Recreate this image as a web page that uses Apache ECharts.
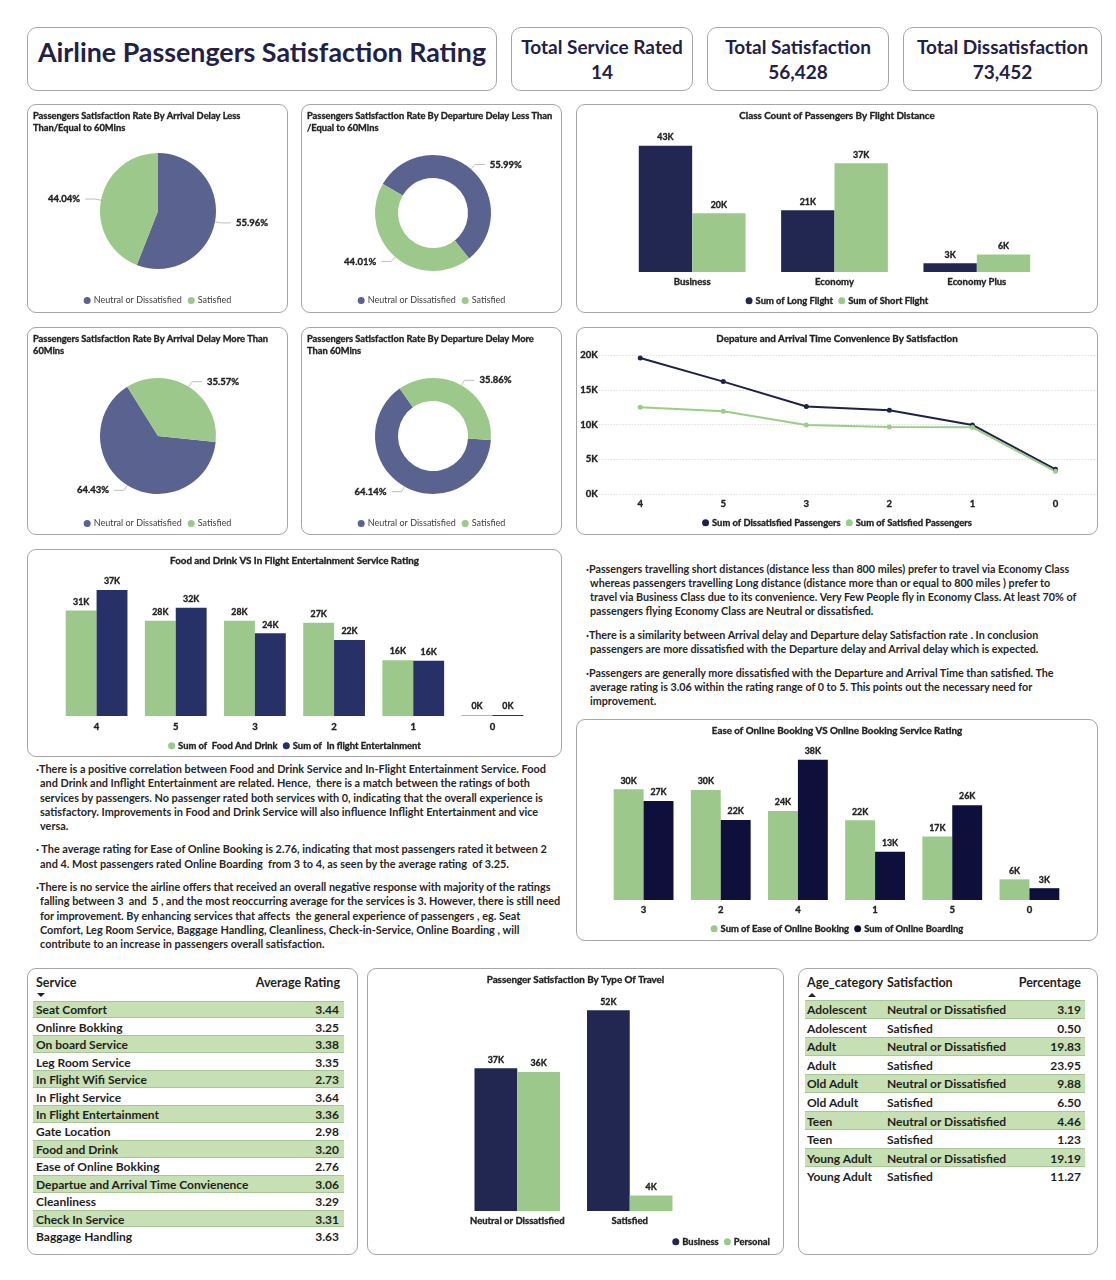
<!DOCTYPE html>
<html><head><meta charset="utf-8">
<script src="https://cdn.jsdelivr.net/npm/echarts@6/dist/echarts.min.js"></script>
<style>
body{margin:0;background:#fff;font-family:Lato,'Open Sans',sans-serif;color:#222;}
#root{position:relative;width:1116px;height:1280px;overflow:hidden;background:#fff;}
.box{position:absolute;border:1px solid #a6a6a6;border-radius:9px;box-sizing:border-box;background:#fff;}
.chart{position:absolute;left:0;top:0;width:100%;height:100%;}
.kpi{display:flex;flex-direction:column;align-items:center;justify-content:center;font-weight:700;color:#1f2147;}
.txt{position:absolute;font-weight:700;color:#262626;}
.txt .ln{white-space:pre;}
.row{position:absolute;box-sizing:border-box;font-weight:700;color:#1e1e1e;font-size:12px;}
.row.g{background:#c6e0b4;border-top:1px solid #a9c69a;border-bottom:1px solid #a9c69a;}
.row span{position:absolute;top:50%;transform:translateY(-50%);white-space:nowrap;}
.hdr{position:absolute;font-weight:700;font-size:12.5px;color:#1e1e1e;white-space:nowrap;}
</style></head>
<body><div id="root"></div>
<script>
// ---------- data ----------
const pieLabels = ['Neutral or Dissatisfied', 'Satisfied'];
const arrivalLe60 = [55.96, 44.04];
const departureLe60 = [55.99, 44.01];
const arrivalGt60 = [64.43, 35.57];
const departureGt60 = [64.14, 35.86];

const classCategories = ['Business', 'Economy', 'Economy Plus'];
const longFlight = [43000, 21000, 3000];
const shortFlight = [20000, 37000, 6000];

const convenienceRatings = ['4', '5', '3', '2', '1', '0'];
const dissatisfiedPassengers = [19570, 16170, 12600, 12060, 9930, 3550];
const satisfiedPassengers = [12480, 11900, 9930, 9650, 9600, 3260];
const convenienceTicks = [0, 5000, 10000, 15000, 20000];

const foodRatings = ['4', '5', '3', '2', '1', '0'];
const foodAndDrink = [31000, 28000, 28000, 27400, 16400, 0];
const inflightEntertainment = [37000, 31800, 24300, 22300, 16200, 0];

const bookingRatings = ['3', '2', '4', '1', '5', '0'];
const easeOfOnlineBooking = [30000, 29800, 24100, 21600, 17200, 5600];
const onlineBoarding = [26800, 21700, 38000, 13100, 25700, 3200];

const travelCategories = ['Neutral or Dissatisfied', 'Satisfied'];
const businessTravel = [37000, 52000];
const personalTravel = [36000, 4000];

const services = ['Seat Comfort', 'Onlinre Bokking', 'On board Service', 'Leg Room Service', 'In Flight Wifi Service', 'In Flight Service', 'In Flight Entertainment', 'Gate Location', 'Food and Drink', 'Ease of Online Bokking', 'Departue and Arrival Time Convienence', 'Cleanliness', 'Check In Service', 'Baggage Handling'];
const serviceRatings = ['3.44', '3.25', '3.38', '3.35', '2.73', '3.64', '3.36', '2.98', '3.20', '2.76', '3.06', '3.29', '3.31', '3.63'];

const ageCategories = ['Adolescent', 'Adolescent', 'Adult', 'Adult', 'Old Adult', 'Old Adult', 'Teen', 'Teen', 'Young Adult', 'Young Adult'];
const ageSatisfaction = ['Neutral or Dissatisfied', 'Satisfied', 'Neutral or Dissatisfied', 'Satisfied', 'Neutral or Dissatisfied', 'Satisfied', 'Neutral or Dissatisfied', 'Satisfied', 'Neutral or Dissatisfied', 'Satisfied'];
const agePercentage = ['3.19', '0.50', '19.83', '23.95', '9.88', '6.50', '4.46', '1.23', '19.19', '11.27'];

// ---------- layout helpers ----------
const F = 'Lato';
const INK = '#222222';
const EMB = { textBorderColor: INK, textBorderWidth: 0.35 };
const root = document.getElementById('root');
function box(l, t, w, h, r) {
  const d = document.createElement('div');
  d.className = 'box';
  d.style.cssText = `left:${l}px;top:${t}px;width:${w}px;height:${h}px;` + (r ? `border-radius:${r}px;` : '');
  root.appendChild(d);
  return d;
}
function chartIn(l, t, w, h) {
  const d = box(l, t, w, h);
  const c = document.createElement('div');
  c.className = 'chart';
  d.appendChild(c);
  return echarts.init(c, null, { renderer: 'canvas' });
}
const kfmt = p => Math.round(p.value / 1000) + 'K';
const titleStyle = Object.assign({ fontSize: 9.8, fontWeight: 700, color: INK, fontFamily: F, lineHeight: 12 }, EMB);
const pieTitleStyle = Object.assign({ fontSize: 9.3, fontWeight: 700, color: INK, fontFamily: F, lineHeight: 12 }, EMB);
const barLabel = Object.assign({ show: true, position: 'top', formatter: kfmt, fontSize: 8.8, fontWeight: 700, color: INK, fontFamily: F, distance: 4 }, EMB);
const legendBold = { icon: 'circle', itemWidth: 7, itemHeight: 7, itemGap: 5, textStyle: Object.assign({ fontSize: 9.4, fontWeight: 700, color: INK, fontFamily: F, padding: [0, 0, 0, -2] }, EMB) };
const catAxis = (data, margin) => ({ type: 'category', data, axisLine: { show: false }, axisTick: { show: false }, axisLabel: Object.assign({ interval: 0, fontSize: 9.5, fontWeight: 700, color: INK, fontFamily: F, margin }, EMB) });

// ---------- header ----------
const tb = box(27, 27, 470, 64, 10);
tb.classList.add('kpi');
tb.style.paddingBottom = '14px';
tb.innerHTML = '<div id="mainTitle" style="font-size:26.8px;white-space:nowrap">Airline Passengers Satisfaction Rating</div>';
function kpi(l, w, label, val) {
  const b = box(l, 27, w, 64, 10);
  b.classList.add('kpi');
  b.innerHTML = `<div class="kl" style="font-size:19px;line-height:25px;white-space:nowrap">${label}</div><div style="font-size:19px;line-height:25px">${val}</div>`;
}
kpi(511, 182, 'Total Service Rated', '14');
kpi(707, 182, 'Total Satisfaction', '56,428');
kpi(903, 199, 'Total Dissatisfaction', '73,452');

// ---------- pies ----------
function pieOpt(title, values, donut, startAngle, center) {
  return {
    animation: false,
    color: ['#5a6290', '#9cc98b'],
    title: { text: title, left: 5, top: 5, padding: 0, textStyle: pieTitleStyle },
    legend: { left: 'center', top: 186, icon: 'circle', itemWidth: 7, itemHeight: 7, itemGap: 6, textStyle: { fontSize: 9, color: '#404040', fontFamily: F, padding: [0, 0, 0, -2] } },
    series: [{
      type: 'pie', radius: donut ? [35, 58] : [0, 58], center, startAngle, clockwise: true,
      data: pieLabels.map((n, i) => ({ name: n, value: values[i] })),
      label: Object.assign({ formatter: p => p.value.toFixed(2) + '%', fontSize: 9.5, fontWeight: 700, color: INK, fontFamily: F }, EMB),
      labelLine: { length: 6, length2: 10, lineStyle: { color: '#bfbfbf', width: 1 } },
      emphasis: { disabled: true }
    }]
  };
}
chartIn(27, 104, 261, 209).setOption(pieOpt('Passengers Satisfaction Rate By Arrival Delay Less\nThan/Equal to 60Mins', arrivalLe60, false, 90, [130, 106]));
chartIn(301, 104, 261, 209).setOption(pieOpt('Passengers Satisfaction Rate By Departure Delay Less Than\n/Equal to 60Mins', departureLe60, true, 150, [131, 108]));
chartIn(27, 327, 261, 208).setOption(pieOpt('Passengers Satisfaction Rate By Arrival Delay More Than\n60Mins', arrivalGt60, false, -6, [130, 108]));
chartIn(301, 327, 261, 208).setOption(pieOpt('Passengers Satisfaction Rate By Departure Delay More\nThan 60Mins', departureGt60, true, -4, [131, 108]));

// ---------- class count ----------
chartIn(576, 104, 522, 209).setOption({
  animation: false,
  title: { text: 'Class Count of Passengers By Flight Distance', left: 'center', top: 5, padding: 0, textStyle: titleStyle },
  legend: Object.assign({ left: 'center', top: 186 }, legendBold),
  grid: { left: 44, right: 49, top: 26, bottom: 40 },
  xAxis: catAxis(classCategories, 5),
  yAxis: { type: 'value', min: 0, max: 48000, show: false },
  series: [
    { type: 'bar', name: 'Sum of Long Flight', data: longFlight, itemStyle: { color: '#212750' }, barGap: '0%', barCategoryGap: '25%', label: barLabel },
    { type: 'bar', name: 'Sum of Short Flight', data: shortFlight, itemStyle: { color: '#9cc98b' }, label: barLabel }
  ]
});

// ---------- time convenience line ----------
chartIn(576, 327, 522, 208).setOption({
  animation: false,
  title: { text: 'Depature and Arrival Time Convenience By Satisfaction', left: 'center', top: 5, padding: 0, textStyle: titleStyle },
  legend: Object.assign({ left: 'center', top: 185 }, legendBold),
  grid: { left: 20, right: -3, top: 27, bottom: 40 },
  xAxis: Object.assign(catAxis(convenienceRatings, 5), { boundaryGap: true }),
  yAxis: {
    type: 'value', min: convenienceTicks[0], max: convenienceTicks[convenienceTicks.length - 1], interval: convenienceTicks[1] - convenienceTicks[0],
    axisLabel: Object.assign({ formatter: v => (v / 1000) + 'K', fontSize: 9.5, fontWeight: 700, color: INK, fontFamily: F, margin: 1 }, EMB),
    splitLine: { lineStyle: { type: [1, 2], color: '#d0d0d0' } }, axisLine: { show: false }, axisTick: { show: false }
  },
  series: [
    { type: 'line', name: 'Sum of Dissatisfied Passengers', data: dissatisfiedPassengers, color: '#1f2148', lineStyle: { width: 2 }, symbol: 'circle', symbolSize: 5 },
    { type: 'line', name: 'Sum of Satisfied Passengers', data: satisfiedPassengers, color: '#9dcb8a', lineStyle: { width: 2 }, symbol: 'circle', symbolSize: 5 }
  ]
});

// ---------- food & drink ----------
chartIn(27, 549, 535, 208).setOption({
  animation: false,
  title: { text: 'Food and Drink VS In Flight Entertainment Service Rating', left: 'center', top: 5, padding: 0, textStyle: titleStyle },
  legend: Object.assign({ left: 'center', top: 186 }, legendBold),
  grid: { left: 29, right: 29, top: 23, bottom: 40 },
  xAxis: catAxis(foodRatings, 6),
  yAxis: { type: 'value', min: 0, max: 42000, show: false },
  series: [
    { type: 'bar', name: 'Sum of  Food And Drink', data: foodAndDrink, itemStyle: { color: '#9cc98b' }, barGap: '0%', barCategoryGap: '22%', barMinHeight: 1, label: barLabel },
    { type: 'bar', name: 'Sum of  In flight Entertainment', data: inflightEntertainment, itemStyle: { color: '#283068' }, barMinHeight: 1, label: barLabel }
  ]
});

// ---------- online booking ----------
chartIn(576, 719, 522, 222).setOption({
  animation: false,
  title: { text: 'Ease of Online Booking VS Online Booking Service Rating', left: 'center', top: 5, padding: 0, textStyle: titleStyle },
  legend: Object.assign({ left: 'center', top: 199 }, legendBold),
  grid: { left: 28, right: 29, top: 25, bottom: 40 },
  xAxis: catAxis(bookingRatings, 5),
  yAxis: { type: 'value', min: 0, max: 42000, show: false },
  series: [
    { type: 'bar', name: 'Sum of Ease of Online Booking', data: easeOfOnlineBooking, itemStyle: { color: '#9cc98b' }, barGap: '0%', barCategoryGap: '22.5%', label: barLabel },
    { type: 'bar', name: 'Sum of Online Boarding', data: onlineBoarding, itemStyle: { color: '#0e0f3b' }, label: barLabel }
  ]
});

// ---------- type of travel ----------
chartIn(367, 968, 417, 287).setOption({
  animation: false,
  title: { text: 'Passenger Satisfaction By Type Of Travel', left: 'center', top: 5, padding: 0, textStyle: titleStyle },
  legend: Object.assign({ right: 8, top: 263 }, legendBold),
  grid: { left: 93, right: 97, top: 22, bottom: 43 },
  xAxis: catAxis(travelCategories, 5),
  yAxis: { type: 'value', min: 0, max: 57000, show: false },
  series: [
    { type: 'bar', name: 'Business', data: businessTravel, itemStyle: { color: '#212750' }, barGap: '0%', barCategoryGap: '24%', label: barLabel },
    { type: 'bar', name: 'Personal', data: personalTravel, itemStyle: { color: '#9cc98b' }, label: barLabel }
  ]
});

// ---------- commentary text ----------
function textBlock(l, t, lineH, paraGap, paras, target) {
  const d = document.createElement('div');
  d.className = 'txt';
  d.style.cssText = `left:${l}px;top:${t}px;line-height:${lineH}px;font-size:11px;`;
  paras.forEach((p, pi) => {
    p.forEach((line, li) => {
      const ln = document.createElement('div');
      ln.className = 'ln';
      ln.style.paddingLeft = li === 0 ? '0px' : '4px';
      if (pi > 0 && li === 0) ln.style.marginTop = paraGap + 'px';
      ln.innerHTML = '<span>' + (li === 0 ? '·' : '') + line + '</span>';
      d.appendChild(ln);
    });
  });
  root.appendChild(d);
  let mx = 0;
  d.querySelectorAll('span').forEach(s => mx = Math.max(mx, s.getBoundingClientRect().width));
  d.style.fontSize = (11 * target / mx) + 'px';
}
textBlock(586, 562, 14, 10, [
  ['Passengers travelling short distances (distance less than 800 miles) prefer to travel via Economy Class',
   'whereas passengers travelling Long distance (distance more than or equal to 800 miles ) prefer to',
   'travel via Business Class due to its convenience. Very Few People fly in Economy Class. At least 70% of',
   'passengers flying Economy Class are Neutral or dissatisfied.'],
  ['There is a similarity between Arrival delay and Departure delay Satisfaction rate . In conclusion',
   'passengers are more dissatisfied with the Departure delay and Arrival delay which is expected.'],
  ['Passengers are generally more dissatisfied with the Departure and Arrival Time than satisfied. The',
   'average rating is 3.06 within the rating range of 0 to 5. This points out the necessary need for',
   'improvement.']
], 487);
textBlock(36, 762, 14.3, 9, [
  ['There is a positive correlation between Food and Drink Service and In-Flight Entertainment Service. Food',
   'and Drink and Inflight Entertainment are related. Hence,  there is a match between the ratings of both',
   'services by passengers. No passenger rated both services with 0, indicating that the overall experience is',
   'satisfactory. Improvements in Food and Drink Service will also influence Inflight Entertainment and vice',
   'versa.'],
  [' The average rating for Ease of Online Booking is 2.76, indicating that most passengers rated it between 2',
   'and 4. Most passengers rated Online Boarding  from 3 to 4, as seen by the average rating  of 3.25.'],
  ['There is no service the airline offers that received an overall negative response with majority of the ratings',
   'falling between 3  and  5 , and the most reoccurring average for the services is 3. However, there is still need',
   'for improvement. By enhancing services that affects  the general experience of passengers , eg. Seat',
   'Comfort, Leg Room Service, Baggage Handling, Cleanliness, Check-in-Service, Online Boarding , will',
   'contribute to an increase in passengers overall satisfaction.']
], 521);

// ---------- tables ----------
function hdr(parent, text, l, t, alignRight) {
  const h = document.createElement('div');
  h.className = 'hdr';
  h.textContent = text;
  h.style.top = t + 'px';
  if (alignRight) h.style.right = l + 'px'; else h.style.left = l + 'px';
  parent.appendChild(h);
}
function tri(parent, l, t, up) {
  const a = document.createElement('div');
  a.style.cssText = `position:absolute;left:${l}px;top:${t}px;width:0;height:0;border-left:4px solid transparent;border-right:4px solid transparent;` + (up ? 'border-bottom:4px solid #222;' : 'border-top:4px solid #222;');
  parent.appendChild(a);
}
const t1 = box(27, 968, 331, 287);
hdr(t1, 'Service', 8, 6);
hdr(t1, 'Average Rating', 17, 6, true);
tri(t1, 9, 24, false);
services.forEach((s, i) => {
  const r = document.createElement('div');
  r.className = 'row' + (i % 2 === 0 ? ' g' : '');
  r.style.cssText = `left:5px;top:${31.5 + i * 17.46}px;width:311px;height:17.46px;`;
  r.innerHTML = `<span style="left:3px">${s}</span><span style="right:5px">${serviceRatings[i]}</span>`;
  t1.appendChild(r);
});
const t2 = box(798, 968, 300, 287);
hdr(t2, 'Age_category', 8, 6);
hdr(t2, 'Satisfaction', 88, 6);
hdr(t2, 'Percentage', 16, 6, true);
tri(t2, 9, 24, true);
ageCategories.forEach((a, i) => {
  const r = document.createElement('div');
  r.className = 'row' + (i % 2 === 0 ? ' g' : '');
  r.style.cssText = `left:6px;top:${31 + i * 18.55}px;width:280px;height:18.55px;`;
  r.innerHTML = `<span style="left:2px">${a}</span><span style="left:82px">${ageSatisfaction[i]}</span><span style="right:4px">${agePercentage[i]}</span>`;
  t2.appendChild(r);
});
</script></body></html>
